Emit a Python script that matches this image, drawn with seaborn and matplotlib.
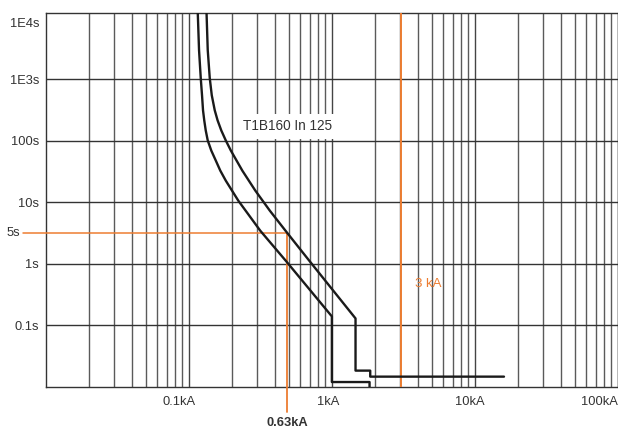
import numpy as np
import pandas as pd
import matplotlib
matplotlib.use("Agg")
import matplotlib.pyplot as plt
import matplotlib.transforms as mtransforms
import seaborn as sns

# ---- data ----
# lower trip curve of T1B160 In 125 (current kA, time s)
low_current = [0.1153, 0.1177, 0.1210, 0.1235, 0.1255, 0.1280, 0.1311, 0.1354,
               0.1433, 0.1541, 0.1657, 0.1811, 0.2216, 0.3160, 0.4769,
               1.0, 1.0, 1.835, 1.835]
low_time = [12000, 2950, 1031, 544, 310, 212.8, 146.1, 100.4,
            68.9, 47.4, 32.5, 22.3, 10.54, 3.415, 1.107,
            0.1387, 0.0119, 0.0119, 0.0095]
# upper trip curve
high_current = [0.1328, 0.1354, 0.1399, 0.1445, 0.1516, 0.1587, 0.1684, 0.1811,
                0.1964, 0.2363, 0.2915, 0.3684, 0.4847, 0.6966, 1.464,
                1.464, 1.855, 1.855, 16.0]
high_time = [12000, 2950, 1031, 544, 310, 212.8, 146.1, 100.4,
             68.9, 32.5, 15.35, 7.239, 3.204, 1.107, 0.1286,
             0.01824, 0.01824, 0.01456, 0.01456]

x_ticks = [0.1, 1, 10, 100]
x_tick_labels = ["0.1kA", "1kA", "10kA", "100kA"]
y_ticks = [0.1, 1, 10, 100, 1000, 10000]
y_tick_labels = ["0.1s", "1s", "10s", "100s", "1E3s", "1E4s"]

marker_time = 3.204      # drawn "5s" reference line
marker_current = 0.4847  # drawn "0.63kA" reference line
short_circuit = 3.06     # "3 kA" line
curve_label = "T1B160 In 125"

ORANGE = "#ED7D31"
DARK = "#333333"

sns.set_theme(style="white")
plt.rcParams["font.family"] = ["Liberation Sans", "DejaVu Sans"]

fig = plt.figure(figsize=(6.18, 4.32), dpi=100)
ax = fig.add_axes([0.0744, 0.1049, 0.9252, 0.8643])

df = pd.concat([
    pd.DataFrame({"current": low_current, "time": low_time, "curve": "low"}),
    pd.DataFrame({"current": high_current, "time": high_time, "curve": "high"}),
])
sns.lineplot(data=df, x="current", y="time", units="curve", estimator=None,
             sort=False, color="#1a1a1a", lw=1.7, ax=ax, zorder=5)

ax.set_xscale("log")
ax.set_yscale("log")
ax.set_xlim(0.01, 100)
ax.set_ylim(0.01, 11700)

ax.set_xticks(x_ticks)
ax.set_xticklabels(x_tick_labels)
ax.set_yticks(y_ticks)
ax.set_yticklabels(y_tick_labels)
ax.xaxis.set_minor_locator(matplotlib.ticker.LogLocator(base=10, subs=np.arange(2, 10)))
ax.xaxis.set_minor_formatter(matplotlib.ticker.NullFormatter())
ax.yaxis.set_minor_locator(matplotlib.ticker.NullLocator())

ax.grid(True, which="major", axis="x", color="#444444", lw=1.0)
ax.grid(True, which="minor", axis="x", color="#5a5a5a", lw=1.0)
ax.grid(True, which="major", axis="y", color="#333333", lw=1.0)
for t in ax.yaxis.get_major_ticks():
    if t.get_loc() >= 9999:
        t.gridline.set_visible(False)
ax.set_axisbelow(True)

ax.tick_params(axis="both", which="major", direction="out", length=3, width=1,
               color=DARK, labelcolor=DARK, labelsize=9.3, pad=2)
ax.tick_params(axis="x", which="major", pad=4)
ax.tick_params(axis="x", which="minor", length=0)
for s in ax.spines.values():
    s.set_color(DARK)
    s.set_linewidth(1.0)

ax.set_xlabel("")
ax.set_ylabel("")

# shift tick labels like the reference
x_shifts = [-10, -4, -5, 0]
for lab, dx in zip(ax.get_xticklabels(), x_shifts):
    lab.set_transform(lab.get_transform() +
                      mtransforms.ScaledTranslation(dx / 100, 0, fig.dpi_scale_trans))
ax.get_xticklabels()[-1].set_ha("right")
top_lab = ax.get_yticklabels()[-1]
top_lab.set_transform(top_lab.get_transform() +
                      mtransforms.ScaledTranslation(0, -5 / 100, fig.dpi_scale_trans))

# reference lines
ax.axvline(short_circuit, color=ORANGE, lw=1.4, zorder=4)
ax.plot([0.0069, marker_current], [marker_time, marker_time], color=ORANGE,
        lw=1.1, clip_on=False, zorder=4)
ax.plot([marker_current, marker_current], [marker_time, 0.00395], color=ORANGE,
        lw=1.3, clip_on=False, zorder=4)

ax.text(0.0066, marker_time, "5s", ha="right", va="center", fontsize=9.3,
        color=DARK)
ax.text(marker_current, 0.0026, "0.63kA", ha="center", va="center",
        fontsize=9.3, fontweight="bold", color=DARK)
ax.text(short_circuit * 1.25, 0.467, "3 kA", ha="left", va="center",
        fontsize=9.5, color=ORANGE)
ax.text(0.4886, 170, curve_label, ha="center", va="center", fontsize=9.8,
        color=DARK, zorder=6,
        bbox=dict(facecolor="white", edgecolor="none", pad=4))

fig.savefig("out.png", dpi=100)
